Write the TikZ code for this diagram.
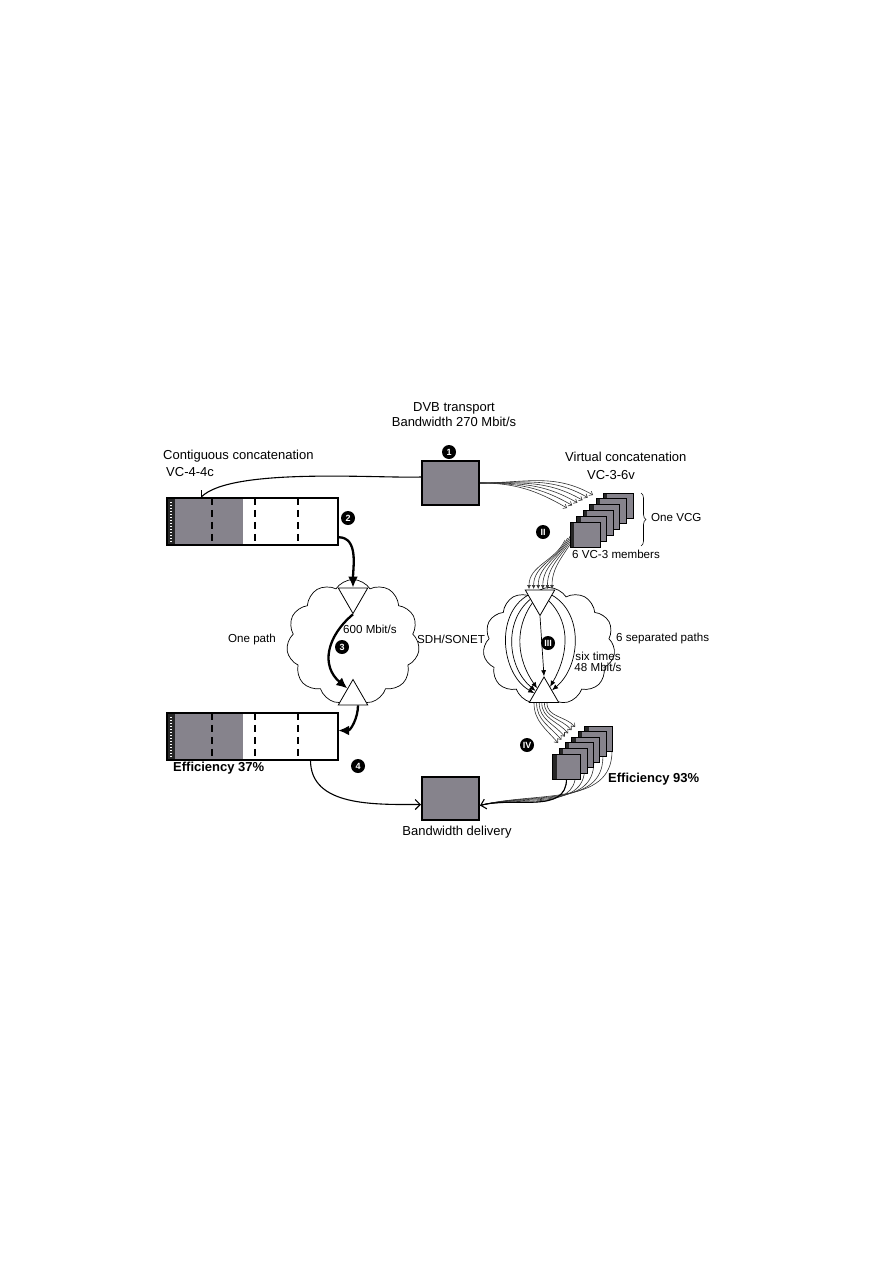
\documentclass[tikz,border=0pt]{standalone}
\usepackage{fontspec}
\setmainfont{Liberation Sans}
\usetikzlibrary{arrows.meta,shapes.geometric,shapes.symbols,decorations.pathreplacing}

\definecolor{vcgray}{RGB}{134,131,140}

\tikzset{
  lbl/.style={font=\fontsize{13}{15}\selectfont, inner sep=0pt},
  slbl/.style={font=\fontsize{11.6}{13}\selectfont, inner sep=0pt},
  num/.style={circle, fill=black, text=white, inner sep=0pt, minimum size=14pt,
    font=\fontsize{9}{9}\selectfont\bfseries},
  vcbox/.style={draw, line width=2pt, fill=vcgray, minimum width=57pt,
    minimum height=44pt, inner sep=0pt},
  vcbar/.style={minimum width=171pt, minimum height=47pt, inner sep=0pt},
  barline/.style={line width=2pt},
  cut/.style={line width=1.5pt, dash pattern=on 7pt off 5pt},
  vcsq/.style={draw, line width=0.8pt, fill=vcgray, minimum width=30pt,
    minimum height=25pt, inner sep=0pt,
    path picture={\fill[black!85] (path picture bounding box.north west)
      rectangle ([xshift=4pt]path picture bounding box.south west);}},
  net/.style={cloud, draw, line width=0.7pt, cloud puffs=11,
    cloud puff arc=115, cloud ignores aspect, inner sep=0pt},
  tri/.style={regular polygon, regular polygon sides=3, draw, line width=0.8pt,
    fill=white, minimum size=34pt, inner sep=0pt},
  thin arrow/.style={line width=1.1pt, -{Straight Barb[length=5pt,width=10pt]}},
  thick arrow/.style={line width=2.3pt, -{Latex[length=11pt,width=10pt]}},
  fan/.style={line width=0.6pt, black!80, -{Straight Barb[length=3pt,width=5pt]}},
  feed/.style={line width=0.6pt, black!80, -{Latex[length=4pt,width=4pt]}},
  path arrow/.style={line width=0.7pt, -{Latex[length=6pt,width=5pt]}},
  back line/.style={line width=0.6pt, black!80},
}

\begin{document}
\begin{tikzpicture}[x=1pt,y=-1pt]
\useasboundingbox (0,0) rectangle (893,1263);

\node[net, minimum width=133pt, minimum height=125pt] (net1) at (353,642) {};
\node[net, minimum width=132pt, minimum height=117pt] (net2) at (549,646) {};

\node[tri, shape border rotate=180] (t1) at (353,596.5) {};
\node[tri] (t2) at (353,696.5) {};
\node[tri, shape border rotate=180] (t3) at (540,598.5) {};
\node[tri] (t4) at (544,694) {};

\node[vcbox] (src) at (450.5,483) {};
\node[vcbox, minimum height=43pt] (dlv) at (450.5,798.5) {};

\foreach \nm/\y in {bar1/521.5, bar2/736.5} {
  \node[vcbar] (\nm) at (252.5,\y) {};
  \fill[vcgray] (\nm.north west) rectangle ([shift={(76,0)}]\nm.south west);
  \fill[black!85] (\nm.north west) rectangle ([shift={(8,0)}]\nm.south west);
  \draw[white, line width=1.6pt, dash pattern=on 1.5pt off 1.5pt]
    ([shift={(4,4)}]\nm.north west) -- ([shift={(4,-4)}]\nm.south west);
  \foreach \d in {45,88,131}
    \draw[cut] ([shift={(\d,0)}]\nm.north west) -- ([shift={(\d,0)}]\nm.south west);
  \draw[barline] (\nm.north west) rectangle (\nm.south east);
}

\node[lbl, align=center] (dvb) at (454,415) {DVB transport\\Bandwidth 270 Mbit/s};
\node[lbl, anchor=west] (cc) at (163,456) {Contiguous concatenation};
\node[lbl, anchor=west] (cc4) at (166,472) {VC-4-4c};
\node[lbl, anchor=west] (vc) at (565,457) {Virtual concatenation};
\node[lbl] (vc3) at (611,475) {VC-3-6v};
\node[slbl, anchor=west] (vcg) at (651,518) {One VCG};
\node[slbl, anchor=west] (memb) at (572,554) {6 VC-3 members};
\node[slbl] (path1) at (252,639) {One path};
\node[slbl, anchor=west] (rate1) at (343,629) {600 Mbit/s};
\node[slbl, anchor=west] (sdh) at (417,639) {SDH/SONET};
\node[slbl, anchor=west] (paths6) at (616,638) {6 separated paths};
\node[slbl] (six) at (598,656) {six times};
\node[slbl] (rate6) at (598,667) {48 Mbit/s};
\node[lbl, font=\fontsize{13}{15}\selectfont\bfseries, anchor=west] (eff1) at (173,768) {Efficiency 37\%};
\node[lbl, font=\fontsize{13}{15}\selectfont\bfseries, anchor=west] (eff2) at (608,779) {Efficiency 93\%};
\node[lbl] (dlvl) at (457,832) {Bandwidth delivery};

\draw[thin arrow] ([shift={(0,-6)}]src.west) to[out=182,in=45,looseness=0.5] ([shift={(-52,0)}]bar1.north);
\draw[thick arrow] ([shift={(0,-8)}]bar1.south east) to[out=0,in=90] (t1.north);
\draw[thick arrow] (t1.corner 1) to[out=220,in=140,looseness=1.2] (t2.125);
\draw[thick arrow] ([shift={(5,0)}]t2.south) to[out=-90,in=0] ([shift={(0,-6)}]bar2.east);
\draw[thin arrow] ([shift={(58,0)}]bar2.south) to[out=-90,in=180] ([shift={(0,6)}]dlv.west);

\foreach \i in {1,...,6} {
  \coordinate (a\i) at ({567+5.2*(\i-1)},{508-2.6*(\i-1)});
  \coordinate (s\i) at ({565+2.6*(\i-1)},{540-2*(\i-1)});
  \coordinate (e\i) at ({529+4.6*(\i-1)},589);
  \coordinate (f\i) at ({534+2.6*(\i-1)},703);
  \coordinate (g\i) at ({558+3.4*(\i-1)},{743-3.2*(\i-1)});
  \coordinate (h\i) at ({566.5+9.1*(\i-1)},{779-5.6*(\i-1)});
}
\foreach \i in {1,...,6} {
  \draw[fan] (src.east) to[out=0,in=150] (a\i);
  \draw[feed] (s\i) to[out=245,in=90] (e\i);
  \draw[fan] (f\i) to[out=-90,in=130] (g\i);
  \draw[back line] (h\i) to[out=-90,in=15] ([shift={(0,7)}]dlv.east);
}
\draw[thin arrow] (h1) to[out=-90,in=15] ([shift={(0,7)}]dlv.east);

\draw[path arrow] (t3.corner 1) -- (t4.corner 1);
\draw[path arrow] (t3.165) to[out=210,in=150] (t4.175);
\draw[path arrow] (t3.185) to[out=220,in=140] (t4.160);
\draw[path arrow] (t3.210) to[out=235,in=125] (t4.140);
\draw[path arrow] (t3.15) to[out=-30,in=40] (t4.25);
\draw[path arrow] (t3.345) to[out=-45,in=60] (t4.50);

\foreach \i in {6,...,1}
  \node[vcsq] (v\i) at ({585+6.6*(\i-1)},{534.5-5.8*(\i-1)}) {};
\foreach \i in {6,...,1}
  \node[vcsq, minimum width=28pt] (w\i) at ({566.5+6.4*(\i-1)},{766.5-5.6*(\i-1)}) {};

\draw[line width=0.6pt, decorate, decoration={brace, amplitude=5pt}] (641,493) -- (641,546);

\node[num] (no1) at (449,452) {1};
\node[num] (no2) at (348,518) {2};
\node[num] (no3) at (342,647) {3};
\node[num] (no4) at (358,766) {4};
\node[num] (noII) at (543,532) {II};
\node[num] (noIII) at (548,643) {III};
\node[num] (noIV) at (527,745) {IV};
\end{tikzpicture}
\end{document}
